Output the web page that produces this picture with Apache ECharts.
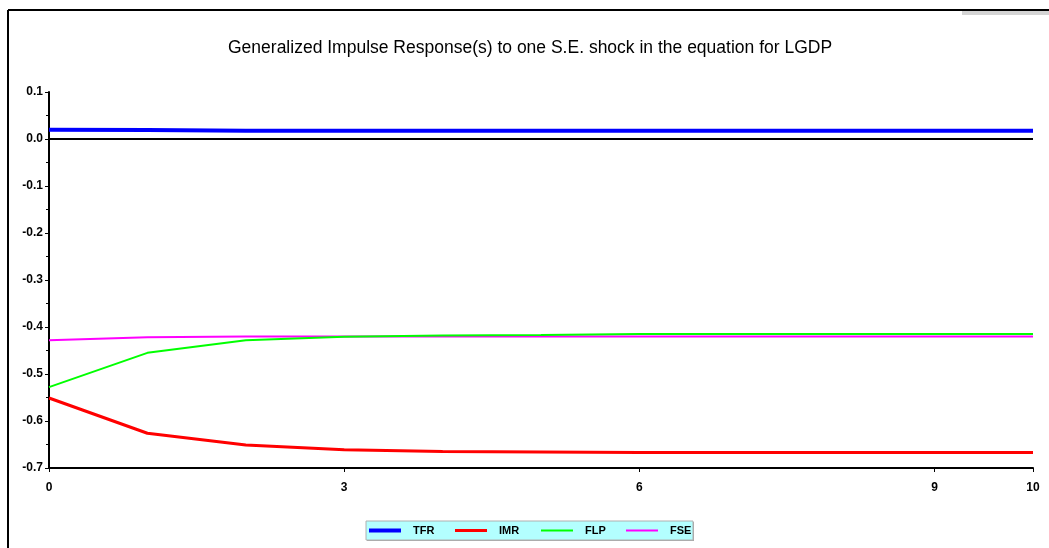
<!DOCTYPE html>
<html>
<head>
<meta charset="utf-8">
<script src="https://cdn.jsdelivr.net/npm/echarts@6/dist/echarts.min.js"></script>
<style>
  html, body { margin: 0; padding: 0; background: #ffffff; }
  #chart { width: 1049px; height: 548px; }
</style>
</head>
<body>
<div id="chart"></div>
<script>
// Horizon (periods after the shock)
const steps = [0, 1, 2, 3, 4, 5, 6, 7, 8, 9, 10];

// Generalized impulse responses to a one S.E. shock in LGDP
const tfr = [0.0195, 0.0190, 0.0175, 0.0175, 0.0175, 0.0175, 0.0175, 0.0175, 0.0175, 0.0175, 0.0175];
const imr = [-0.551, -0.626, -0.651, -0.661, -0.665, -0.666, -0.667, -0.667, -0.667, -0.667, -0.667];
const flp = [-0.528, -0.455, -0.428, -0.421, -0.418, -0.417, -0.415, -0.415, -0.415, -0.415, -0.415];
const fse = [-0.428, -0.422, -0.420, -0.420, -0.420, -0.420, -0.420, -0.420, -0.420, -0.420, -0.420];

const seriesNames = ['TFR', 'IMR', 'FLP', 'FSE'];
const seriesColors = ['#0000FF', '#FF0000', '#00FF00', '#FF00FF'];
const seriesWidths = [4, 3, 2, 2];
const seriesData = [tfr, imr, flp, fse];

const font = '"Liberation Sans", Arial, sans-serif';

const chart = echarts.init(document.getElementById('chart'), null, { renderer: 'canvas' });

const series = seriesNames.map((name, i) => ({
  name: name,
  type: 'line',
  data: steps.map((s, k) => [s, seriesData[i][k]]),
  symbol: 'none',
  smooth: false,
  animation: false,
  lineStyle: { color: seriesColors[i], width: seriesWidths[i] },
  itemStyle: { color: seriesColors[i] },
  z: 3 + (3 - i)
}));

// zero reference line
series[0].markLine = {
  silent: true,
  symbol: ['none', 'none'],
  label: { show: false },
  lineStyle: { color: '#000000', width: 2, type: 'solid' },
  data: [{ yAxis: 0 }],
  z: 1
};

// one legend entry per series, laid out inside a shared key box
const legendLefts = [369, 455, 541, 626];
const legends = seriesNames.map((name, i) => ({
  data: [{ name: name, icon: 'rect' }],
  left: legendLefts[i],
  top: 524,
  padding: 0,
  itemWidth: 32,
  itemHeight: seriesWidths[i],
  selectedMode: false,
  textStyle: { fontFamily: font, fontSize: 11, fontWeight: 'bold', color: '#000000', padding: [0, 0, 0, 7], lineHeight: 13 },
  z: 10
}));

chart.setOption({
  backgroundColor: '#ffffff',
  animation: false,
  title: {
    text: 'Generalized Impulse Response(s) to one S.E. shock in the equation for LGDP',
    left: 223,
    top: 34,
    textStyle: { fontFamily: font, fontSize: 17.5, fontWeight: 'normal', color: '#000000' }
  },
  graphic: [
    { type: 'line', shape: { x1: 8, y1: 10, x2: 1049, y2: 10 }, style: { stroke: '#000000', lineWidth: 2 } },
    { type: 'line', shape: { x1: 8, y1: 10, x2: 8, y2: 548 }, style: { stroke: '#000000', lineWidth: 2 } },
    { type: 'rect', shape: { x: 962, y: 11, width: 87, height: 4 }, style: { fill: '#d4d4d4' } },
    // key box with a light drop shadow
    { type: 'rect', shape: { x: 367, y: 522, width: 327, height: 19 }, style: { fill: '#a8a8a8' }, z: 1 },
    { type: 'rect', shape: { x: 366, y: 521, width: 327, height: 19 }, style: { fill: '#B3FFFF', stroke: '#b0b0b0', lineWidth: 1 }, z: 2 }
  ],
  legend: legends,
  grid: { left: 49, right: 16, top: 92, bottom: 80, containLabel: false },
  xAxis: {
    type: 'value',
    min: 0,
    max: 10,
    interval: 3,
    axisLine: { show: true, onZero: false, lineStyle: { color: '#000000', width: 2 } },
    axisTick: { show: true, length: 4, lineStyle: { color: '#000000', width: 1 } },
    splitLine: { show: false },
    axisLabel: { fontFamily: font, fontSize: 12, fontWeight: 'bold', color: '#000000', margin: 14, showMaxLabel: true }
  },
  yAxis: {
    type: 'value',
    min: -0.7,
    max: 0.1,
    interval: 0.1,
    axisLine: { show: true, onZero: false, lineStyle: { color: '#000000', width: 2 } },
    axisTick: { show: true, length: 4, lineStyle: { color: '#000000', width: 1 } },
    minorTick: { show: true, splitNumber: 2, length: 3, lineStyle: { color: '#000000', width: 1 } },
    splitLine: { show: false },
    axisLabel: {
      fontFamily: font, fontSize: 12, fontWeight: 'bold', color: '#000000', margin: 6,
      formatter: v => v.toFixed(1)
    }
  },
  series: series
});
</script>
</body>
</html>
